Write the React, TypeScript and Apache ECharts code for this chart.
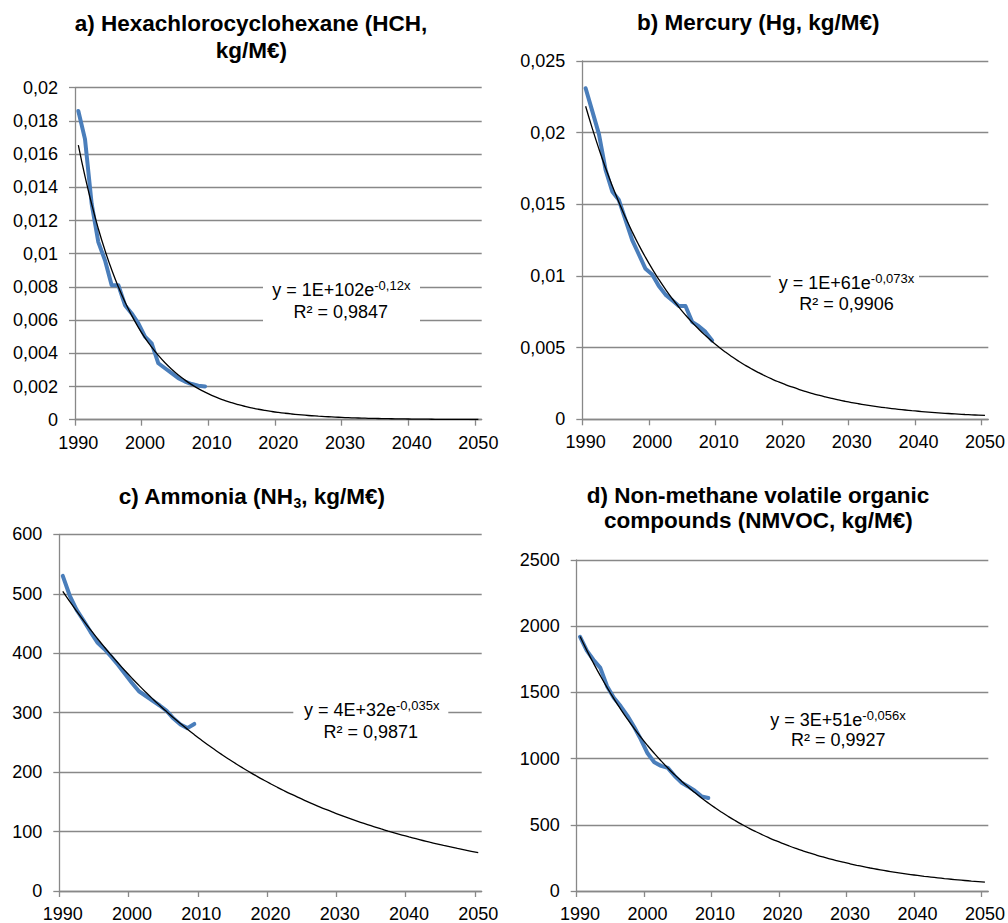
import React, { useEffect, useRef } from 'react';
import * as echarts from 'echarts';

const FONT = '"Liberation Sans", Arial, Helvetica, sans-serif';
const GREY = '#888888';
const BLUE = '#4A7EBB';

// Years with measured emission intensities
const observedYears = [
  1990, 1991, 1992, 1993, 1994, 1995, 1996, 1997, 1998, 1999,
  2000, 2001, 2002, 2003, 2004, 2005, 2006, 2007, 2008, 2009,
];
// Labelled years on the horizontal axes
const xTickYears = [1990, 2000, 2010, 2020, 2030, 2040, 2050];
const trendStart = 1990;
const trendEnd = 2050;

// a) HCH, kg/M€
const hchValues = [
  0.0186, 0.0169, 0.013, 0.0107, 0.0096, 0.0081, 0.0081, 0.0069, 0.0064, 0.0058,
  0.005, 0.0046, 0.0034, 0.0031, 0.0028, 0.0025, 0.0023, 0.00215, 0.00205, 0.002,
];
// b) Hg, kg/M€
const hgValues = [
  0.0231, 0.0215, 0.0199, 0.0174, 0.0159, 0.0153, 0.0139, 0.0125, 0.0115, 0.0105,
  0.0101, 0.0093, 0.0087, 0.0083, 0.0079, 0.0079, 0.0068, 0.0065, 0.0061, 0.0055,
];
// c) NH3, kg/M€
const nh3Values = [
  530, 497, 473, 455, 436, 418, 407, 394, 380, 365,
  350, 336, 328, 320, 312, 303, 290, 280, 274, 281,
];
// d) NMVOC, kg/M€
const nmvocValues = [
  1920, 1815, 1745, 1685, 1547, 1460, 1397, 1325, 1240, 1146,
  1040, 972, 945, 930, 870, 820, 790, 757, 715, 702,
];

// Value-axis tick labels
const hchTicks = [0, 0.002, 0.004, 0.006, 0.008, 0.01, 0.012, 0.014, 0.016, 0.018, 0.02];
const hgTicks = [0, 0.005, 0.01, 0.015, 0.02, 0.025];
const nh3Ticks = [0, 100, 200, 300, 400, 500, 600];
const nmvocTicks = [0, 500, 1000, 1500, 2000, 2500];

// Trendline equations as printed on the chart
const hchEquation = { main: 'y = 1E+102e', exp: '-0,12x', r2: 'R² = 0,9847' };
const hgEquation = { main: 'y = 1E+61e', exp: '-0,073x', r2: 'R² = 0,9906' };
const nh3Equation = { main: 'y = 4E+32e', exp: '-0,035x', r2: 'R² = 0,9871' };
const nmvocEquation = { main: 'y = 3E+51e', exp: '-0,056x', r2: 'R² = 0,9927' };

// Least-squares exponential fit (linear regression on ln y)
function expTrend(xs: number[], ys: number[]) {
  const x0 = xs[0];
  const lx = xs.map((x) => x - x0);
  const ly = ys.map((y) => Math.log(y));
  const n = xs.length;
  const mx = lx.reduce((s, v) => s + v, 0) / n;
  const my = ly.reduce((s, v) => s + v, 0) / n;
  let sxy = 0;
  let sxx = 0;
  for (let i = 0; i < n; i++) {
    sxy += (lx[i] - mx) * (ly[i] - my);
    sxx += (lx[i] - mx) * (lx[i] - mx);
  }
  const b = sxy / sxx;
  const a = my - b * mx;
  return (x: number) => Math.exp(a + b * (x - x0));
}

function fmtTick(v: number) {
  return String(parseFloat(Number(v).toPrecision(6))).replace('.', ',');
}

type Panel = {
  values: number[];
  ticks: number[];
  grid: { left: number; top: number; width: number; height: number };
  eq: { main: string; exp: string; r2: string };
  eqBox: [number, number, number, number];
  eqLine1: [number, number];
  eqLine2: [number, number];
};

const panels: Panel[] = [
  {
    values: hchValues,
    ticks: hchTicks,
    grid: { left: 75, top: 87.7, width: 406.7, height: 332 },
    eq: hchEquation,
    eqBox: [263, 278, 157, 45],
    eqLine1: [341.3, 290],
    eqLine2: [340.8, 311.7],
  },
  {
    values: hgValues,
    ticks: hgTicks,
    grid: { left: 582.3, top: 61, width: 406, height: 358.3 },
    eq: hgEquation,
    eqBox: [770.7, 271, 148.3, 44],
    eqLine1: [846.5, 282.7],
    eqLine2: [846.5, 304],
  },
  {
    values: nh3Values,
    ticks: nh3Ticks,
    grid: { left: 59.3, top: 534.3, width: 422.4, height: 358 },
    eq: nh3Equation,
    eqBox: [293.3, 699, 155, 45],
    eqLine1: [371.7, 710],
    eqLine2: [370.8, 732],
  },
  {
    values: nmvocValues,
    ticks: nmvocTicks,
    grid: { left: 576.7, top: 560, width: 411.6, height: 332.3 },
    eq: nmvocEquation,
    eqBox: [762, 709, 152, 43],
    eqLine1: [838, 720],
    eqLine2: [838.2, 740],
  },
];

function titleText(text: string, x: number, y: number) {
  return {
    type: 'text',
    x,
    y,
    z: 10,
    style: {
      text,
      fill: '#000',
      fontFamily: FONT,
      fontWeight: 'bold',
      fontSize: 22.5,
      textAlign: 'center',
      textVerticalAlign: 'middle',
    },
  };
}

function buildOption() {
  const grids: any[] = [];
  const xAxes: any[] = [];
  const yAxes: any[] = [];
  const series: any[] = [];
  const graphics: any[] = [];

  const trendYears: number[] = [];
  for (let y = trendStart; y <= trendEnd; y++) trendYears.push(y);

  panels.forEach((p, i) => {
    grids.push({ ...p.grid, containLabel: false });
    xAxes.push({
      type: 'value',
      gridIndex: i,
      min: 1989.5,
      max: 2050.5,
      axisLine: { show: true, onZero: false, lineStyle: { color: GREY, width: 1.3 } },
      axisTick: {
        show: true,
        length: 6,
        lineStyle: { color: GREY, width: 1.3 },
        customValues: xTickYears.map((y) => y - 0.5),
      },
      axisLabel: {
        customValues: xTickYears,
        formatter: (v: number) => String(v),
        margin: 14,
        fontSize: 18,
        fontFamily: FONT,
        color: '#000',
      },
      splitLine: { show: false },
    });
    const tk = p.ticks;
    yAxes.push({
      type: 'value',
      gridIndex: i,
      min: tk[0],
      max: tk[tk.length - 1],
      interval: tk[1] - tk[0],
      axisLine: { show: true, lineStyle: { color: GREY, width: 1.3 } },
      axisTick: { show: true, length: 6, lineStyle: { color: GREY, width: 1.3 } },
      axisLabel: {
        formatter: fmtTick,
        margin: 17,
        fontSize: 18,
        fontFamily: FONT,
        color: '#000',
      },
      splitLine: { show: true, lineStyle: { color: GREY, width: 1.3 } },
    });

    const fit = expTrend(observedYears, p.values);
    series.push({
      type: 'line',
      xAxisIndex: i,
      yAxisIndex: i,
      data: observedYears.map((y, k) => [y, p.values[k]]),
      showSymbol: false,
      lineStyle: { color: BLUE, width: 4, cap: 'round', join: 'round' },
      z: 2,
    });
    series.push({
      type: 'line',
      xAxisIndex: i,
      yAxisIndex: i,
      data: trendYears.map((y) => [y, fit(y)]),
      showSymbol: false,
      smooth: true,
      lineStyle: { color: '#000', width: 1.3 },
      z: 3,
    });

    const [bx, by, bw, bh] = p.eqBox;
    graphics.push({
      type: 'rect',
      z: 9,
      shape: { x: bx, y: by, width: bw, height: bh },
      style: { fill: '#ffffff' },
    });
    graphics.push({
      type: 'text',
      x: p.eqLine1[0],
      y: p.eqLine1[1],
      z: 10,
      style: {
        text: `{m|${p.eq.main}}{s|${p.eq.exp}}`,
        fill: '#000',
        fontFamily: FONT,
        fontSize: 18,
        textAlign: 'center',
        textVerticalAlign: 'middle',
        rich: {
          m: { fontSize: 18, fontFamily: FONT, lineHeight: 22, fill: '#000' },
          s: { fontSize: 13, fontFamily: FONT, lineHeight: 14, verticalAlign: 'top', fill: '#000' },
        },
      },
    });
    graphics.push({
      type: 'text',
      x: p.eqLine2[0],
      y: p.eqLine2[1],
      z: 10,
      style: {
        text: p.eq.r2,
        fill: '#000',
        fontFamily: FONT,
        fontSize: 18,
        textAlign: 'center',
        textVerticalAlign: 'middle',
      },
    });
  });

  graphics.push(titleText('a) Hexachlorocyclohexane (HCH,', 251, 23.3));
  graphics.push(titleText('kg/M€)', 251.3, 50));
  graphics.push(titleText('b) Mercury (Hg, kg/M€)', 758.3, 22.7));
  graphics.push({
    type: 'text',
    x: 251.7,
    y: 496.7,
    z: 10,
    style: {
      text: '{t|c) Ammonia (NH}{u|3}{t|, kg/M€)}',
      fill: '#000',
      fontFamily: FONT,
      fontWeight: 'bold',
      fontSize: 22.5,
      textAlign: 'center',
      textVerticalAlign: 'middle',
      rich: {
        t: { fontSize: 22.5, fontWeight: 'bold', fontFamily: FONT, lineHeight: 26, fill: '#000' },
        u: { fontSize: 14, fontWeight: 'bold', fontFamily: FONT, lineHeight: 14, verticalAlign: 'bottom', fill: '#000' },
      },
    },
  });
  graphics.push(titleText('d) Non-methane volatile organic', 758, 495));
  graphics.push(titleText('compounds (NMVOC, kg/M€)', 758.3, 520));

  return {
    animation: false,
    backgroundColor: '#ffffff',
    textStyle: { fontFamily: FONT },
    grid: grids,
    xAxis: xAxes,
    yAxis: yAxes,
    series,
    graphic: { elements: graphics },
  };
}

export default function App() {
  const ref = useRef<HTMLDivElement>(null);
  useEffect(() => {
    if (!ref.current) return;
    const chart = echarts.init(ref.current, undefined, { renderer: 'svg' });
    chart.setOption(buildOption() as any);
    return () => chart.dispose();
  }, []);
  return (
    <div
      ref={ref}
      style={{ position: 'absolute', left: 0, top: 0, width: 1008, height: 923, background: '#fff' }}
    />
  );
}
